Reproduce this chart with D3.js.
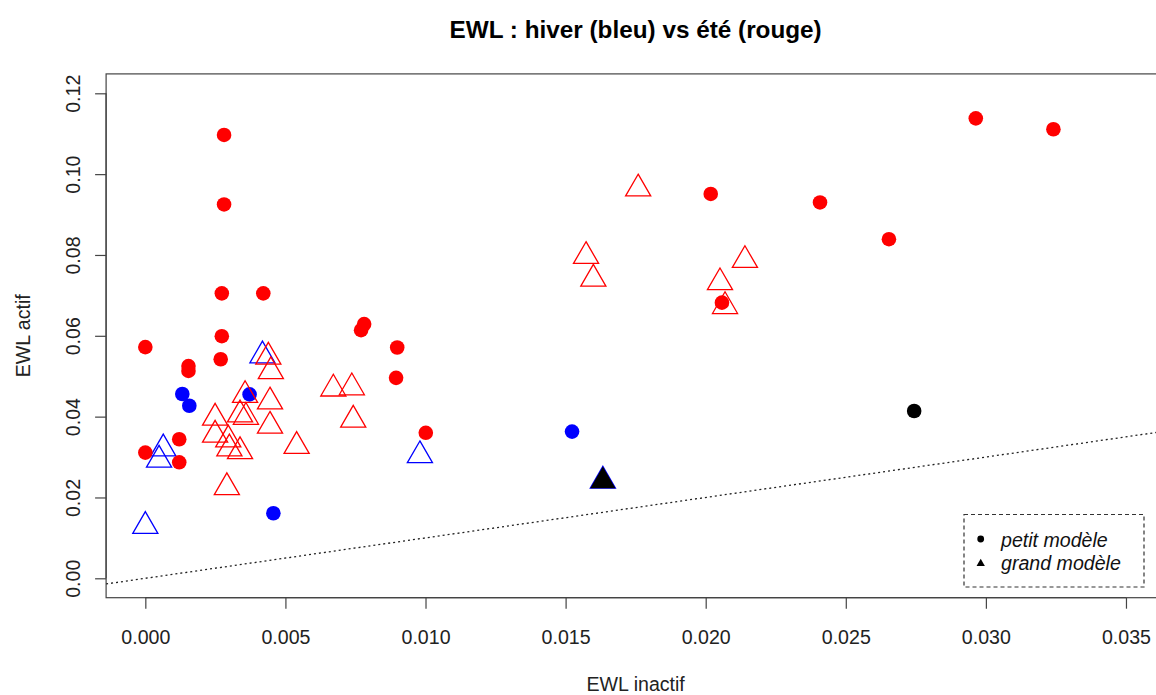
<!DOCTYPE html>
<html>
<head>
<meta charset="utf-8">
<script src="https://cdn.jsdelivr.net/npm/d3@7"></script>
<style>
  html, body { margin: 0; padding: 0; background: #fff; }
  svg { display: block; font-family: "Liberation Sans", Arial, sans-serif; }
</style>
</head>
<body>
<svg id="chart" width="1156" height="695"></svg>
<script>
// ---- Data ----
const titleText = "EWL : hiver (bleu) vs été (rouge)";
const xLabel = "EWL inactif";
const yLabel = "EWL actif";

const xTicks = [0.000, 0.005, 0.010, 0.015, 0.020, 0.025, 0.030, 0.035];
const xTickLabels = ["0.000", "0.005", "0.010", "0.015", "0.020", "0.025", "0.030", "0.035"];
const yTicks = [0.00, 0.02, 0.04, 0.06, 0.08, 0.10, 0.12];
const yTickLabels = ["0.00", "0.02", "0.04", "0.06", "0.08", "0.10", "0.12"];

// winter (blue), small model (circles)
const hiverPetitX = [0.00132, 0.00157, 0.00372, 0.00457, 0.01523];
const hiverPetitY = [0.0456, 0.0427, 0.0455, 0.0161, 0.0363];
// winter (blue), large model (triangles)
const hiverGrandX = [0.00418, 0.00064, 0.00049, 0.00000, 0.00980, 0.01633];
const hiverGrandY = [0.0551, 0.0321, 0.0293, 0.0129, 0.0304, 0.0241];
// summer (red), small model (circles)
const etePetitX = [0.00281, 0.00281, 0.00273, 0.00421, 0.00273, 0.00269, 0.00000, 0.00154, 0.00154,
                   0.00121, 0.00000, 0.00121, 0.00781, 0.00770, 0.00899, 0.00895, 0.01001, 0.02018,
                   0.02058, 0.02408, 0.02654, 0.02964, 0.03241];
const etePetitY = [0.1097, 0.0925, 0.0705, 0.0705, 0.0599, 0.0542, 0.0572, 0.0525, 0.0513,
                   0.0344, 0.0311, 0.0287, 0.0629, 0.0614, 0.0571, 0.0496, 0.0360, 0.0951,
                   0.0682, 0.0930, 0.0839, 0.1138, 0.1111];
// summer (red), large model (triangles)
const eteGrandX = [0.00439, 0.00448, 0.00356, 0.00445, 0.00338, 0.00359, 0.00249, 0.00445, 0.00249,
                   0.00296, 0.00300, 0.00338, 0.00540, 0.00291, 0.00671, 0.00737, 0.00742, 0.01759,
                   0.01573, 0.01599, 0.02140, 0.02051, 0.02069];
const eteGrandY = [0.0548, 0.0512, 0.0453, 0.0437, 0.0405, 0.0399, 0.0397, 0.0377, 0.0355,
                   0.0343, 0.0321, 0.0314, 0.0327, 0.0225, 0.0469, 0.0472, 0.0392, 0.0964,
                   0.0797, 0.0741, 0.0787, 0.0732, 0.0673];
// highlighted points (black)
const noirPetitX = [0.02744];
const noirPetitY = [0.0414];
const noirGrandX = [0.01633];
const noirGrandY = [0.0241];

const legendLabels = ["petit modèle", "grand modèle"];
const legendShapes = ["circle", "triangle"];

// ---- Layout ----
const svg = d3.select("#chart");
const xlim = [0, 0.035], ylim = [0, 0.12];
const xpad = (xlim[1] - xlim[0]) * 0.04, ypad = (ylim[1] - ylim[0]) * 0.04;
const plotL = 106.1, plotR = 1165.2, plotT = 73.9, plotB = 597.7;
const x = d3.scaleLinear().domain([xlim[0] - xpad, xlim[1] + xpad]).range([plotL, plotR]);
const y = d3.scaleLinear().domain([ylim[0] - ypad, ylim[1] + ypad]).range([plotB, plotT]);

const RED = "#ff0000", BLUE = "#0000ff", AX = "#444";

svg.append("defs").append("clipPath").attr("id", "clip")
  .append("rect").attr("x", plotL).attr("y", plotT).attr("width", plotR - plotL).attr("height", plotB - plotT);

// Title
svg.append("text").attr("x", (plotL + plotR) / 2).attr("y", 37.5)
  .attr("text-anchor", "middle").attr("font-weight", "bold").attr("font-size", 24.3)
  .attr("fill", "#000").text(titleText);

// Box
svg.append("rect").attr("x", plotL).attr("y", plotT).attr("width", plotR - plotL).attr("height", plotB - plotT)
  .attr("fill", "none").attr("stroke", AX).attr("stroke-width", 1.2);

// X axis
const xAxis = d3.axisBottom(x).tickValues(xTicks).tickSizeOuter(0).tickSize(11)
  .tickFormat((d, i) => xTickLabels[i]);
const gx = svg.append("g").attr("transform", `translate(0,${plotB})`).call(xAxis);
gx.select(".domain").attr("d", `M${x(xTicks[0])},0H${x(xTicks[xTicks.length-1])}`).attr("stroke", AX).attr("stroke-width", 1.2);
gx.selectAll(".tick line").attr("stroke", AX).attr("stroke-width", 1.2);
gx.selectAll(".tick text").attr("font-size", 19.6).attr("fill", "#222")
  .attr("font-family", "Liberation Sans, Arial, sans-serif").attr("dy", null).attr("y", 46.5);

// Y axis
const yAxis = d3.axisLeft(y).tickValues(yTicks).tickSizeOuter(0).tickSize(11)
  .tickFormat((d, i) => yTickLabels[i]);
const gy = svg.append("g").attr("transform", `translate(${plotL},0)`).call(yAxis);
gy.select(".domain").attr("d", `M0,${y(yTicks[0])}V${y(yTicks[yTicks.length-1])}`).attr("stroke", AX).attr("stroke-width", 1.2);
gy.selectAll(".tick line").attr("stroke", AX).attr("stroke-width", 1.2);
gy.selectAll(".tick text").attr("font-size", 19.6).attr("fill", "#222")
  .attr("font-family", "Liberation Sans, Arial, sans-serif")
  .attr("x", null).attr("dy", null).attr("text-anchor", "middle")
  .attr("transform", "translate(-26.5,0) rotate(-90)");

// Axis titles
svg.append("text").attr("x", (plotL + plotR) / 2).attr("y", 690.5).attr("text-anchor", "middle")
  .attr("font-size", 19.6).attr("fill", "#222").text(xLabel);
svg.append("text").attr("transform", `translate(30,${(plotT + plotB) / 2}) rotate(-90)`)
  .attr("text-anchor", "middle").attr("font-size", 19.6).attr("fill", "#222").text(yLabel);

// Reference line y = x (dotted)
const lineG = svg.append("g").attr("clip-path", "url(#clip)");
const lineExt = [xlim[0] - xpad, xlim[1] + xpad];
lineG.append("line")
  .attr("x1", x(lineExt[0])).attr("y1", y(lineExt[0]))
  .attr("x2", x(lineExt[1])).attr("y2", y(lineExt[1]))
  .attr("stroke", "#222").attr("stroke-width", 1.3).attr("stroke-dasharray", "2,3");

// Markers
const TR = 14.5, CR = 7.3;
function triPath(cx, cy, r) {
  const hw = r * Math.sqrt(3) / 2;
  return `M${cx},${cy - r}L${cx + hw},${cy + r / 2}L${cx - hw},${cy + r / 2}Z`;
}
const pts = svg.append("g");
function zipXY(xs, ys) { return xs.map((v, i) => ({x: v, y: ys[i]})); }

pts.selectAll(".bc").data(zipXY(hiverPetitX, hiverPetitY)).enter().append("circle")
  .attr("cx", d => x(d.x)).attr("cy", d => y(d.y)).attr("r", CR).attr("fill", BLUE);
pts.selectAll(".bt").data(zipXY(hiverGrandX, hiverGrandY)).enter().append("path")
  .attr("d", d => triPath(x(d.x), y(d.y), TR)).attr("fill", "none").attr("stroke", BLUE).attr("stroke-width", 1.3);
pts.selectAll(".rt").data(zipXY(eteGrandX, eteGrandY)).enter().append("path")
  .attr("d", d => triPath(x(d.x), y(d.y), TR)).attr("fill", "none").attr("stroke", RED).attr("stroke-width", 1.3);
pts.selectAll(".rc").data(zipXY(etePetitX, etePetitY)).enter().append("circle")
  .attr("cx", d => x(d.x)).attr("cy", d => y(d.y)).attr("r", CR).attr("fill", RED);
pts.selectAll(".kc").data(zipXY(noirPetitX, noirPetitY)).enter().append("circle")
  .attr("cx", d => x(d.x)).attr("cy", d => y(d.y)).attr("r", CR).attr("fill", "#000");
pts.selectAll(".kt").data(zipXY(noirGrandX, noirGrandY)).enter().append("path")
  .attr("d", d => triPath(x(d.x), y(d.y), TR)).attr("fill", "#000");

// Legend
const lg = svg.append("g");
lg.append("rect").attr("x", 964).attr("y", 514.5).attr("width", 180).attr("height", 72.5)
  .attr("fill", "#fff").attr("stroke", "#333").attr("stroke-width", 1.2).attr("stroke-dasharray", "4,3");
legendLabels.forEach((lab, i) => {
  const cy = 539 + i * 23.5;
  if (legendShapes[i] === "circle") {
    lg.append("circle").attr("cx", 980.7).attr("cy", cy).attr("r", 3.4).attr("fill", "#000");
  } else {
    lg.append("path").attr("d", triPath(980.7, cy + 1, 4.8)).attr("fill", "#000");
  }
  lg.append("text").attr("x", 1001).attr("y", cy + 7.5).attr("font-size", 19.6)
    .attr("font-style", "italic").attr("fill", "#111").text(lab);
});
</script>
</body>
</html>
